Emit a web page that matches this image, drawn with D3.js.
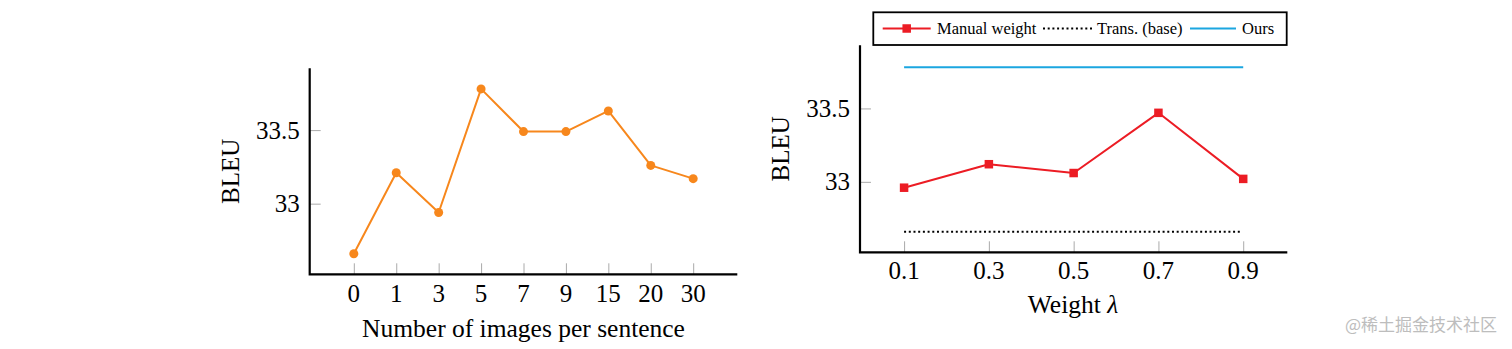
<!DOCTYPE html>
<html>
<head>
<meta charset="utf-8">
<script src="https://cdn.jsdelivr.net/npm/d3@7"></script>
<style>
  html, body { margin: 0; padding: 0; background: #fff; }
  svg { display: block; }
  text { font-family: "Liberation Serif", "Times New Roman", serif; fill: #000; }
</style>
</head>
<body>
<svg id="chart" width="1512" height="349"></svg>
<script>
// Left panel: BLEU vs. number of images per sentence
const imageCounts = ["0", "1", "3", "5", "7", "9", "15", "20", "30"];
const bleuByImages = [32.66, 33.21, 32.94, 33.78, 33.49, 33.49, 33.63, 33.26, 33.17];

// Right panel: BLEU vs. manual weight lambda
const weights = ["0.1", "0.3", "0.5", "0.7", "0.9"];
const bleuManual = [32.96, 33.12, 33.06, 33.47, 33.02];
const bleuBase = 32.66;   // Trans. (base)
const bleuOurs = 33.78;   // Ours

const yTicks = [33, 33.5];
const yTickLabels = ["33", "33.5"];

const svg = d3.select("#chart");

const colors = { orange: "#f7871c", red: "#ec1c24", blue: "#1ba6e0", tick: "#aaaaaa" };

function drawFrame(g, x, y, opts) {
  const [x0, x1] = x.range();
  const [yb, yt] = y.range();

  // y ticks (inside, grey)
  const yAxis = d3.axisRight(y).tickValues(yTicks).tickSize(11).tickFormat("");
  const ya = g.append("g").attr("transform", `translate(${x0},0)`).call(yAxis);
  ya.select(".domain").remove();
  ya.selectAll(".tick line").attr("stroke", colors.tick).attr("stroke-width", 1);

  g.selectAll(".ylab").data(yTicks).enter().append("text")
    .attr("class", "ylab")
    .attr("x", x0 - 10)
    .attr("y", d => y(d) + 8.5)
    .attr("text-anchor", "end")
    .attr("font-size", 25)
    .text((d, i) => yTickLabels[i]);

  // x ticks (inside, grey)
  const xAxis = d3.axisTop(x).tickSize(11).tickFormat("");
  const xa = g.append("g").attr("transform", `translate(0,${yb})`).call(xAxis);
  xa.select(".domain").remove();
  xa.selectAll(".tick line").attr("stroke", colors.tick).attr("stroke-width", 1);

  g.selectAll(".xlab").data(x.domain()).enter().append("text")
    .attr("class", "xlab")
    .attr("x", d => x(d))
    .attr("y", yb + opts.xTickDy)
    .attr("text-anchor", "middle")
    .attr("font-size", 25)
    .text(d => d);

  // axis lines: left and bottom
  g.append("path")
    .attr("d", `M${x0},${yt}V${yb}H${x1}`)
    .attr("fill", "none")
    .attr("stroke", "#000")
    .attr("stroke-width", 2.2);

  // axis titles
  g.append("text")
    .attr("transform", `translate(${opts.yTitleX},${(yt + yb) / 2}) rotate(-90)`)
    .attr("text-anchor", "middle")
    .attr("font-size", 25)
    .text("BLEU");
}

// ---------- Left panel ----------
{
  const x = d3.scalePoint().domain(imageCounts).range([309.7, 737.3]).padding(1.04);
  const y = d3.scaleLinear().domain([32.52, 33.92]).range([274.3, 68.3]);
  const g = svg.append("g");
  drawFrame(g, x, y, { xTickDy: 28, yTitleX: 239 });

  g.append("text")
    .attr("x", 523.5)
    .attr("y", 336.5)
    .attr("text-anchor", "middle")
    .attr("font-size", 25.5)
    .text("Number of images per sentence");

  const pts = imageCounts.map((c, i) => [x(c), y(bleuByImages[i])]);
  g.append("path")
    .attr("d", d3.line()(pts))
    .attr("fill", "none")
    .attr("stroke", colors.orange)
    .attr("stroke-width", 2)
    .attr("stroke-linejoin", "round");
  g.selectAll("circle").data(pts).enter().append("circle")
    .attr("cx", d => d[0]).attr("cy", d => d[1]).attr("r", 4.5)
    .attr("fill", colors.orange);
}

// ---------- Right panel ----------
{
  const x = d3.scalePoint().domain(weights).range([860, 1287.3]).padding(0.52);
  const y = d3.scaleLinear().domain([32.52, 33.93]).range([252.3, 45.3]);
  const g = svg.append("g");
  drawFrame(g, x, y, { xTickDy: 27, yTitleX: 789 });

  const xt = g.append("text")
    .attr("x", 1073)
    .attr("y", 313)
    .attr("text-anchor", "middle")
    .attr("font-size", 25.5);
  xt.append("tspan").text("Weight ");
  xt.append("tspan").attr("font-style", "italic").text("λ");

  const xFirst = x(weights[0]), xLast = x(weights[weights.length - 1]);

  // Ours (constant)
  g.append("line")
    .attr("x1", xFirst).attr("x2", xLast)
    .attr("y1", y(bleuOurs)).attr("y2", y(bleuOurs))
    .attr("stroke", colors.blue).attr("stroke-width", 2);

  // Trans. (base) (constant, dotted)
  g.append("line")
    .attr("x1", xFirst).attr("x2", xLast - 2)
    .attr("y1", y(bleuBase)).attr("y2", y(bleuBase))
    .attr("stroke", "#000").attr("stroke-width", 2)
    .attr("stroke-dasharray", "2,2.7");

  // Manual weight
  const pts = weights.map((w, i) => [x(w), y(bleuManual[i])]);
  g.append("path")
    .attr("d", d3.line()(pts))
    .attr("fill", "none")
    .attr("stroke", colors.red)
    .attr("stroke-width", 2)
    .attr("stroke-linejoin", "round");
  const s = 8.5;
  g.selectAll("rect.mk").data(pts).enter().append("rect")
    .attr("class", "mk")
    .attr("x", d => d[0] - s / 2).attr("y", d => d[1] - s / 2)
    .attr("width", s).attr("height", s)
    .attr("fill", colors.red);

  // Legend
  const lg = g.append("g");
  lg.append("rect")
    .attr("x", 873.3).attr("y", 12.3)
    .attr("width", 1286.7 - 873.3).attr("height", 45 - 12.3)
    .attr("fill", "#fff").attr("stroke", "#000").attr("stroke-width", 1.8);
  const ly = 28.5;
  const items = [
    { name: "Manual weight", x0: 882.7, x1: 930.7, tx: 937, draw: "red" },
    { name: "Trans. (base)", x0: 1043, x1: 1092, tx: 1097, draw: "dot" },
    { name: "Ours", x0: 1190, x1: 1236, tx: 1242, draw: "blue" }
  ];
  items.forEach(it => {
    const ln = lg.append("line")
      .attr("x1", it.x0).attr("x2", it.x1).attr("y1", ly).attr("y2", ly)
      .attr("stroke-width", 2);
    if (it.draw === "red") {
      ln.attr("stroke", colors.red);
      lg.append("rect").attr("x", (it.x0 + it.x1) / 2 - s / 2).attr("y", ly - s / 2)
        .attr("width", s).attr("height", s).attr("fill", colors.red);
    } else if (it.draw === "dot") {
      ln.attr("stroke", "#000").attr("stroke-dasharray", "2,2.7");
    } else {
      ln.attr("stroke", colors.blue);
    }
    lg.append("text").attr("x", it.tx).attr("y", ly + 5.5)
      .attr("font-size", 16.5).text(it.name);
  });
}

// Source mark
svg.append("text")
  .attr("x", 1497).attr("y", 331)
  .attr("text-anchor", "end")
  .attr("font-size", 17)
  .style("font-family", "'Noto Sans CJK SC', sans-serif")
  .style("fill", "#bdbdbd")
  .text("@稀土掘金技术社区");
</script>
</body>
</html>
